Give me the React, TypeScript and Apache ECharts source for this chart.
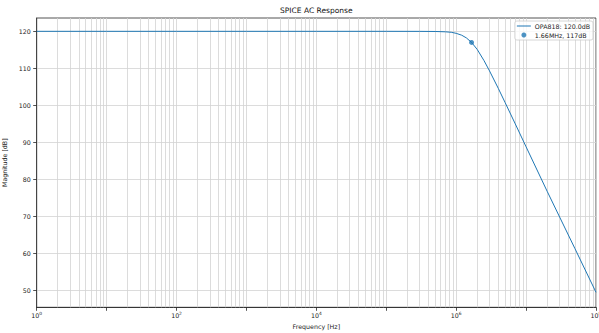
import React, { useEffect, useRef } from 'react';
import * as echarts from 'echarts';

// Frequency (Hz) and magnitude (dB)
const freqHz = [1, 10, 100, 1e3, 1e4, 1e5, 3e5, 5e5, 7e5, 8.5e5, 1e6, 1.2e6, 1.4e6, 1.66e6, 2e6, 2.5e6, 3e6, 4e6, 5e6, 7e6, 1e7, 2e7, 5e7, 1e8];
const magDb = [120, 120, 120, 120, 120, 120, 119.99, 119.96, 119.87, 119.74, 119.46, 118.95, 118.22, 117.0, 115.1, 112.1, 109.3, 104.6, 100.8, 95.0, 88.8, 76.8, 61.3, 49.5];

const markerFreq = [1.66e6];
const markerDb = [117];

const seriesName = 'OPA818: 120.0dB';
const markerName = '1.66MHz, 117dB';

const majorDecades = [1, 10, 100, 1e3, 1e4, 1e5, 1e6, 1e7, 1e8];
const labeledDecades = [1, 100, 1e4, 1e6, 1e8];
const minorMultipliers = [2, 3, 4, 5, 6, 7, 8, 9];
const yTicks = [50, 60, 70, 80, 90, 100, 110, 120];

const FONT = 'DejaVu Sans';
const GRID_COLOR = '#d3d3d3';

export default function App() {
  const ref = useRef<HTMLDivElement>(null);
  useEffect(() => {
    if (!ref.current) return;
    const chart = echarts.init(ref.current, undefined, { renderer: 'svg' });
    const minorFreqs: number[] = [];
    majorDecades.slice(0, -1).forEach((d) => minorMultipliers.forEach((m) => minorFreqs.push(d * m)));

    chart.setOption({
      animation: false,
      backgroundColor: '#ffffff',
      textStyle: { fontFamily: FONT },
      title: {
        text: 'SPICE AC Response',
        left: 316.3,
        top: 6,
        padding: 0,
        textAlign: 'center',
        textStyle: { fontFamily: FONT, fontSize: 7.5, fontWeight: 'normal', color: '#111' },
      },
      legend: {
        orient: 'vertical',
        right: 6,
        top: 21,
        padding: [2, 3, 2, 2],
        itemGap: 3,
        itemWidth: 14,
        itemHeight: 5,
        borderColor: '#cccccc',
        borderWidth: 0.8,
        borderRadius: 2,
        backgroundColor: 'rgba(255,255,255,0.8)',
        textStyle: { fontFamily: FONT, fontSize: 6.3, color: '#222', padding: [0, 0, 0, -1] },
        data: [
          { name: seriesName, icon: 'path://M0 0H28V2H0Z' },
          { name: markerName, icon: 'circle' },
        ],
      },
      grid: {
        left: 36.7,
        right: 3,
        top: 18,
        bottom: 25.7,
        show: true,
        borderColor: '#262626',
        borderWidth: 0.8,
        backgroundColor: 'transparent',
        containLabel: false,
        outerBoundsMode: 'none',
      },
      xAxis: {
        type: 'log',
        logBase: 10,
        min: 1,
        max: 1e8,
        name: 'Frequency [Hz]',
        nameLocation: 'middle',
        nameGap: 15.5,
        nameTextStyle: { fontFamily: FONT, fontSize: 6.3, color: '#222' },
        axisLine: { show: true, lineStyle: { color: '#262626', width: 0.8 } },
        axisTick: { show: true, length: 3.5, lineStyle: { color: '#262626', width: 0.8 }, customValues: majorDecades },
        axisLabel: {
          show: true,
          margin: 4,
          customValues: labeledDecades,
          hideOverlap: false,
          fontFamily: FONT,
          fontSize: 6.3,
          color: '#222',
          formatter: (v: number) => '10{sup|' + Math.round(Math.log10(v)) + '}',
          rich: { sup: { fontSize: 4.4, padding: [0, 0, 4, 0], color: '#222', fontFamily: FONT } },
        },
        splitLine: { show: true, lineStyle: { color: GRID_COLOR, width: 0.8 } },
        minorTick: { show: false },
        minorSplitLine: { show: false },
      },
      yAxis: {
        type: 'value',
        min: 45.45,
        max: 123.6,
        splitNumber: 8,
        name: 'Magnitude [dB]',
        nameLocation: 'middle',
        nameGap: 20.5,
        nameRotate: 90,
        nameTextStyle: { fontFamily: FONT, fontSize: 6.3, color: '#222' },
        axisLine: { show: true, lineStyle: { color: '#262626', width: 0.8 } },
        axisTick: { show: true, length: 3.5, lineStyle: { color: '#262626', width: 0.8 }, customValues: yTicks },
        axisLabel: {
          margin: 6,
          customValues: yTicks,
          fontFamily: FONT,
          fontSize: 6.3,
          color: '#222',
        },
        splitLine: { show: true, lineStyle: { color: GRID_COLOR, width: 0.8 } },
      },
      series: [
        {
          name: 'minor-grid',
          type: 'line',
          data: [],
          z: 1,
          zlevel: 0,
          silent: true,
          markLine: {
            silent: true,
            z: 1,
            symbol: 'none',
            label: { show: false },
            lineStyle: { color: GRID_COLOR, width: 0.8, type: 'solid' },
            data: minorFreqs.map((f) => ({ xAxis: f })),
          },
        },
        {
          name: seriesName,
          type: 'line',
          z: 5,
          symbol: 'none',
          showSymbol: false,
          lineStyle: { color: '#1f77b4', width: 1 },
          itemStyle: { color: '#1f77b4' },
          data: freqHz.map((f, i) => [f, magDb[i]]),
        },
        {
          name: markerName,
          type: 'scatter',
          z: 6,
          symbol: 'circle',
          symbolSize: 5,
          itemStyle: { color: '#1f77b4' },
          data: markerFreq.map((f, i) => [f, markerDb[i]]),
        },
      ],
    });
    return () => chart.dispose();
  }, []);
  return <div ref={ref} style={{ position: 'fixed', left: 0, top: 0, width: 599, height: 333 }} />;
}
